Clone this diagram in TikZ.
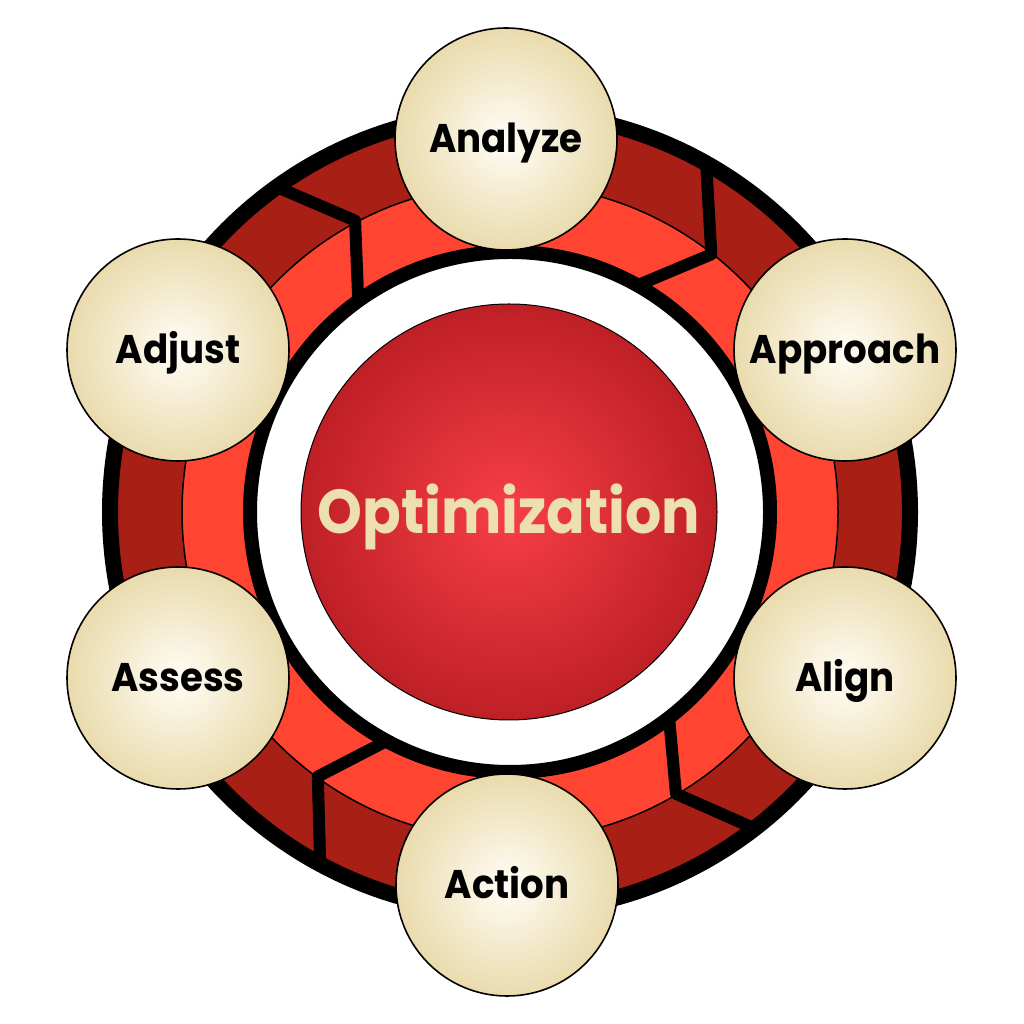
\documentclass[tikz,border=0pt]{standalone}
\usepackage{fontspec}
\setmainfont{Poppins}
\newcommand{\narrowtext}[2]{\scalebox{#1}[1]{#2}}
\begin{document}
\begin{tikzpicture}[x=1pt,y=1pt,
  chev/.style={line width=12, line join=round},
  bead/.style={circle, draw=black, line width=1.6, minimum size=222, inner sep=0,
    inner color=beigein, outer color=beigeout},
  lab/.style={font=\fontsize{40}{40}\selectfont\bfseries, text=black, inner sep=0, anchor=base}]
\definecolor{darkred}{HTML}{A81F16}
\definecolor{brightred}{HTML}{FF4532}
\definecolor{spherein}{HTML}{F83E46}
\definecolor{sphereout}{HTML}{BE2026}
\definecolor{beigein}{HTML}{FFFDF6}
\definecolor{beigeout}{HTML}{EADBAD}
\definecolor{cream}{HTML}{EEDFB0}
\useasboundingbox (0,0) rectangle (1024,1024);
\fill[white] (0,0) rectangle (1024,1024);
\coordinate (c) at (510,512);
\begin{scope}[shift={(510,512)}]
  \fill[darkred] (0,0) circle (400);
  \fill[brightred] (0,0) circle (328);
  \draw[line width=1.5] (0,0) circle (328);
  \draw[chev] (126:404) -- (118:330) -- (126:258);
  \draw[chev] (61:404) -- (52:327) -- (61:258);
  \draw[chev] (-52:404) -- (-59.5:327) -- (-52:258);
  \draw[chev] (-118:404) -- (-126:327) -- (-118:258);
  \fill[white] (0,0) circle (260);
  \draw[line width=16] (0,0) circle (400);
  \draw[line width=14] (0,0) circle (260);
\end{scope}
\node[circle, draw=black, line width=1, minimum size=416, inner sep=0,
  inner color=spherein, outer color=sphereout] (opt) at (509,512) {};
\node[lab, font=\fontsize{62}{62}\selectfont\bfseries, text=cream] (optl) at ([yshift=-22]opt.center) {\narrowtext{0.92}{Optimization}};
\node[bead] (an) at (506,885) {};
\node[bead] (ap) at (845,674) {};
\node[bead] (al) at (845,346) {};
\node[bead] (ac) at (507,139) {};
\node[bead] (as) at (178,346) {};
\node[bead] (ad) at (178,674) {};
\node[lab] (anl) at ([yshift=-14]an.center) {\narrowtext{0.93}{Analyze}};
\node[lab] (apl) at ([yshift=-14]ap.center) {\narrowtext{0.93}{Approach}};
\node[lab] (all) at ([yshift=-14]al.center) {\narrowtext{0.93}{Align}};
\node[lab] (acl) at ([yshift=-14]ac.center) {\narrowtext{0.93}{Action}};
\node[lab] (asl) at ([yshift=-14]as.center) {\narrowtext{0.93}{Assess}};
\node[lab] (adl) at ([yshift=-14]ad.center) {\narrowtext{0.93}{Adjust}};
\end{tikzpicture}
\end{document}
